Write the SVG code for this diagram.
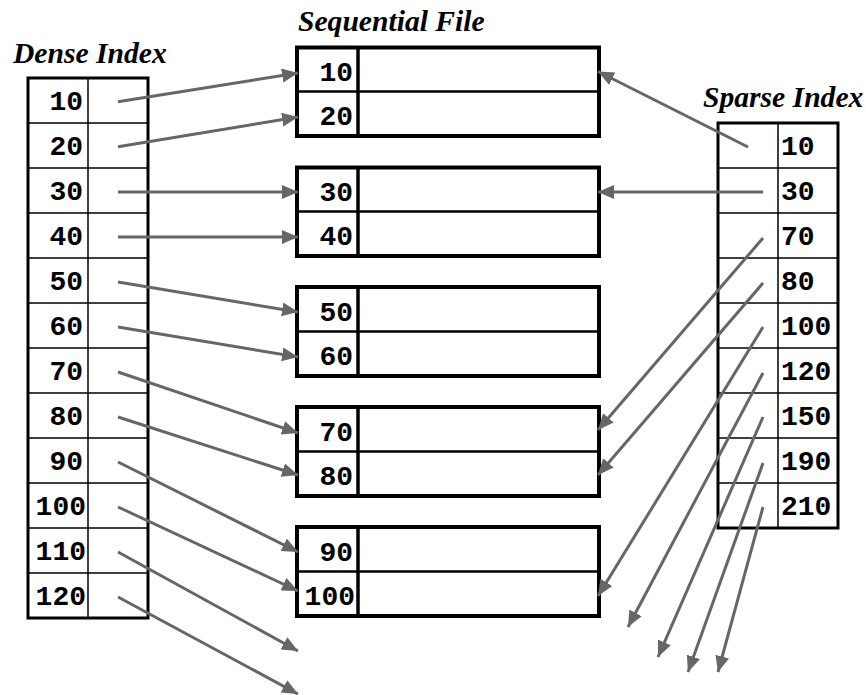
<svg xmlns="http://www.w3.org/2000/svg" width="866" height="695" viewBox="0 0 866 695">
<defs>
<marker id="ah" markerUnits="userSpaceOnUse" markerWidth="17" markerHeight="15" refX="16" refY="7" orient="auto">
<path d="M0,0 L16,7 L0,14 z" fill="#666"/>
</marker>
<style>
.title{font-family:"Liberation Serif","Times New Roman",serif;font-weight:bold;font-style:italic;font-size:29.6px;fill:#000}
.num{font-family:"Liberation Mono","Courier New",monospace;font-weight:bold;font-size:28px;fill:#000}
.r{text-anchor:end}
.outer{fill:#fff;stroke:#000;stroke-width:3}
.blk{fill:#fff;stroke:#000;stroke-width:4}
.thin{stroke:#000;stroke-width:1.5;fill:none}
.mid{stroke:#000;stroke-width:2.5;fill:none}
.div{stroke:#000;stroke-width:3.5;fill:none}
.conn line{stroke:#666;stroke-width:3;marker-end:url(#ah)}
</style>
</defs>
<rect width="866" height="695" fill="#fff"/>

<text class="title" x="13" y="63">Dense Index</text>
<text class="title" x="298" y="31">Sequential File</text>
<text class="title" x="703" y="107">Sparse Index</text>

<g id="dense-index">
<rect class="outer" x="28" y="78" width="120" height="540"/>
<line class="thin" x1="88" y1="78" x2="88" y2="618"/>
<path class="thin" d="M28,123H148M28,168H148M28,213H148M28,258H148M28,303H148M28,348H148M28,393H148M28,438H148M28,483H148M28,528H148M28,573H148"/>
<text class="num r" x="83" y="110">10</text>
<text class="num r" x="83" y="155">20</text>
<text class="num r" x="83" y="200">30</text>
<text class="num r" x="83" y="245">40</text>
<text class="num r" x="83" y="290">50</text>
<text class="num r" x="83" y="335">60</text>
<text class="num r" x="83" y="380">70</text>
<text class="num r" x="83" y="425">80</text>
<text class="num r" x="83" y="470">90</text>
<text class="num r" x="86" y="515">100</text>
<text class="num r" x="86" y="560">110</text>
<text class="num r" x="86" y="605">120</text>
</g>

<g id="block-1">
<rect class="blk" x="297" y="47.5" width="302" height="88.5"/>
<line class="mid" x1="297" y1="91.5" x2="599" y2="91.5"/>
<line class="div" x1="358" y1="47.5" x2="358" y2="136"/>
<text class="num r" x="353" y="80.5">10</text>
<text class="num r" x="353" y="125">20</text>
</g>
<g id="block-2">
<rect class="blk" x="297" y="167.5" width="302" height="88.5"/>
<line class="mid" x1="297" y1="211.5" x2="599" y2="211.5"/>
<line class="div" x1="358" y1="167.5" x2="358" y2="256"/>
<text class="num r" x="353" y="200.5">30</text>
<text class="num r" x="353" y="245">40</text>
</g>
<g id="block-3">
<rect class="blk" x="297" y="287" width="302" height="89"/>
<line class="mid" x1="297" y1="331.5" x2="599" y2="331.5"/>
<line class="div" x1="358" y1="287" x2="358" y2="376"/>
<text class="num r" x="353" y="320.5">50</text>
<text class="num r" x="353" y="365">60</text>
</g>
<g id="block-4">
<rect class="blk" x="297" y="407" width="302" height="89"/>
<line class="mid" x1="297" y1="451.5" x2="599" y2="451.5"/>
<line class="div" x1="358" y1="407" x2="358" y2="496"/>
<text class="num r" x="353" y="440.5">70</text>
<text class="num r" x="353" y="485">80</text>
</g>
<g id="block-5">
<rect class="blk" x="297" y="527" width="302" height="89"/>
<line class="mid" x1="297" y1="571.5" x2="599" y2="571.5"/>
<line class="div" x1="358" y1="527" x2="358" y2="616"/>
<text class="num r" x="353" y="560.5">90</text>
<text class="num r" x="355" y="605">100</text>
</g>

<g id="sparse-index">
<rect class="outer" x="718" y="123" width="120" height="405"/>
<line class="thin" x1="778" y1="123" x2="778" y2="528"/>
<path class="thin" d="M718,168H838M718,213H838M718,258H838M718,303H838M718,348H838M718,393H838M718,438H838M718,483H838"/>
<text class="num" x="781" y="155">10</text>
<text class="num" x="781" y="200">30</text>
<text class="num" x="781" y="245">70</text>
<text class="num" x="781" y="290">80</text>
<text class="num" x="781" y="335">100</text>
<text class="num" x="781" y="380">120</text>
<text class="num" x="781" y="425">150</text>
<text class="num" x="781" y="470">190</text>
<text class="num" x="781" y="515">210</text>
</g>

<g id="connectors" class="conn">
<line x1="118" y1="101.7" x2="298" y2="73"/>
<line x1="118" y1="146.7" x2="298" y2="117"/>
<line x1="118" y1="192" x2="298" y2="192"/>
<line x1="118" y1="237" x2="298" y2="237"/>
<line x1="118" y1="282" x2="298" y2="312"/>
<line x1="118" y1="327" x2="298" y2="357"/>
<line x1="118" y1="372" x2="298" y2="433"/>
<line x1="118" y1="417" x2="298" y2="475"/>
<line x1="118" y1="462" x2="298" y2="552"/>
<line x1="118" y1="507" x2="298" y2="591"/>
<line x1="118" y1="552" x2="298" y2="651"/>
<line x1="118" y1="597" x2="298" y2="694"/>

<line x1="748" y1="147" x2="598" y2="71.5"/>
<line x1="763" y1="192" x2="598" y2="192"/>
<line x1="763" y1="238" x2="598" y2="430"/>
<line x1="763" y1="283" x2="598" y2="475"/>
<line x1="763" y1="327" x2="598" y2="596"/>
<line x1="763" y1="373" x2="628" y2="627"/>
<line x1="763" y1="417" x2="658" y2="657"/>
<line x1="763" y1="463" x2="688" y2="672"/>
<line x1="763" y1="507" x2="718" y2="672"/>
</g>
</svg>
